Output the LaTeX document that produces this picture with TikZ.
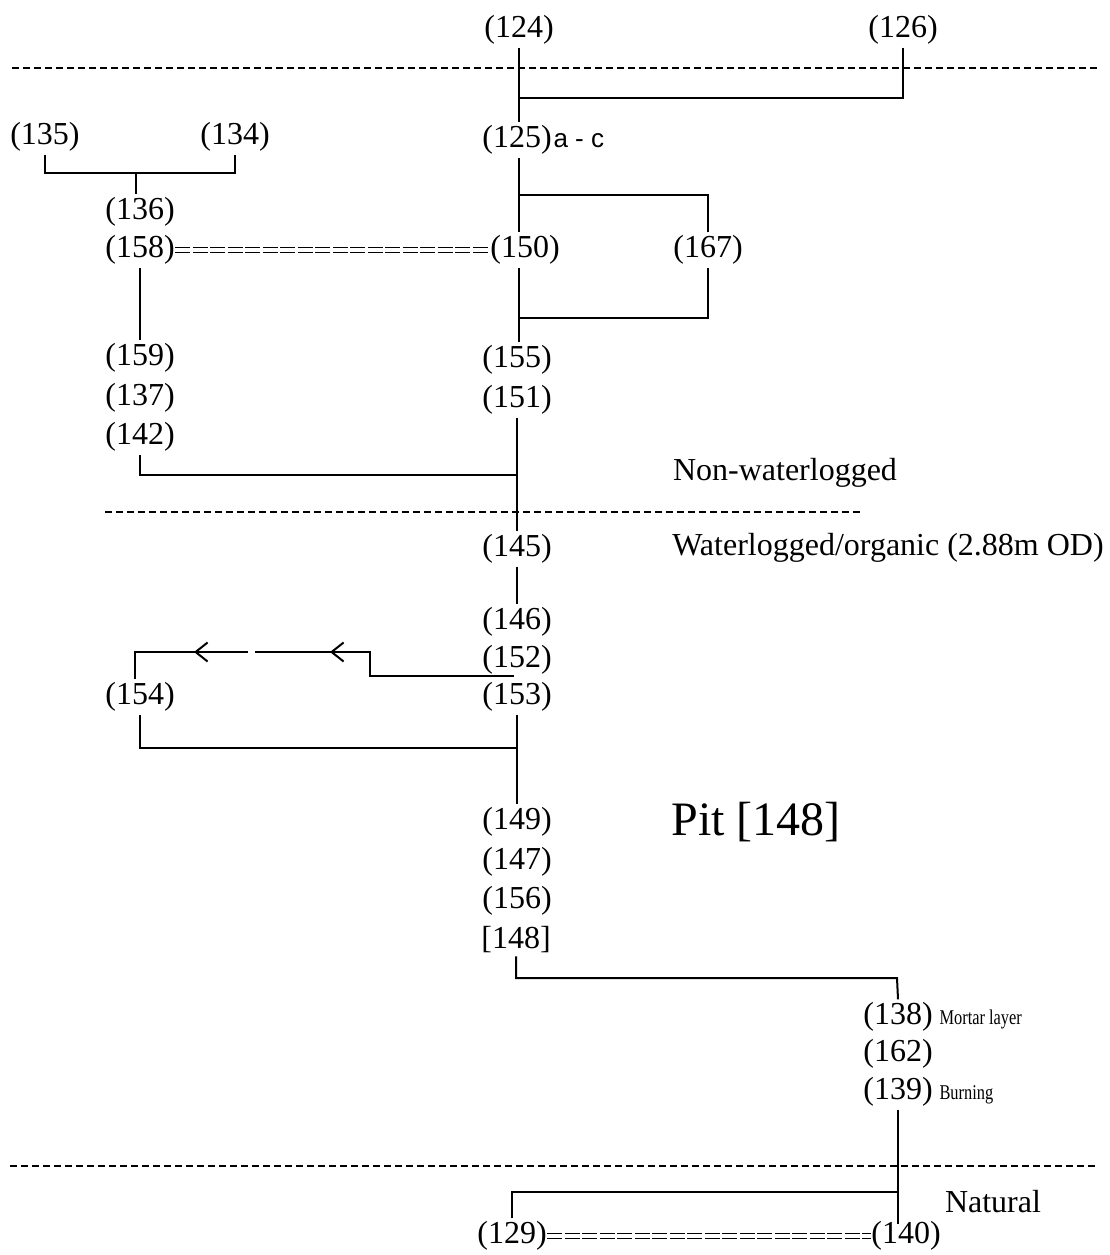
\documentclass[tikz,border=0pt]{standalone}
\usepackage{fontspec}
\setmainfont{Liberation Serif}
\newfontfamily\labsans{Liberation Sans}
\usetikzlibrary{arrows.meta,calc}
\begin{document}
\begin{tikzpicture}[x=1pt,y=-1pt,
  lab/.style={font=\fontsize{32}{34}\selectfont, inner xsep=0.5pt, inner ysep=3pt},
  ln/.style={line width=2pt},
  sepline/.style={line width=1.4pt, dash pattern=on 7pt off 4pt},
  eqline/.style={double, double distance=4pt, line width=1pt, dash pattern=on 15pt off 2.5pt},
  note/.style={font=\fontsize{32}{34}\selectfont, inner sep=0pt},
  smallnote/.style={font=\fontsize{21}{23}\selectfont, inner sep=0pt, anchor=base west},
  barb/.style={-{Straight Barb[length=12pt,width=19pt]}}
]
\useasboundingbox (0,0) rectangle (1109,1255);

% separators
\draw[sepline] (12,68) -- (1098,68);
\draw[sepline] (105,512) -- (862,512);
\draw[sepline] (10,1166) -- (1098,1166);

% labels
\node[lab] (n124) at (519,30) {(124)};
\node[lab] (n126) at (903,30) {(126)};
\node[lab] (n125) at (517,140) {(125)};
\node[inner sep=0pt, anchor=base west, font=\labsans\fontsize{26}{28}\selectfont] (n125s) at ($(n125.base east)+(1,0)$) {a - c};
\node[lab] (n135) at (45,137) {(135)};
\node[lab] (n134) at (235,137) {(134)};
\node[lab] (n136) at (140,212) {(136)};
\node[lab] (n158) at (140,250) {(158)};
\node[lab] (n150) at (525,250) {(150)};
\node[lab] (n167) at (708,250) {(167)};
\node[lab] (n159) at (140,358) {(159)};
\node[lab] (n137) at (140,398) {(137)};
\node[lab] (n142) at (140,437) {(142)};
\node[lab] (n155) at (517,360) {(155)};
\node[lab] (n151) at (517,400) {(151)};
\node[lab] (n145) at (517,549) {(145)};
\node[lab] (n146) at (517,622) {(146)};
\node[lab] (n152) at (517,660) {(152)};
\node[lab] (n153) at (517,697) {(153)};
\node[lab] (n154) at (140,697) {(154)};
\node[lab] (n149) at (517,822) {(149)};
\node[lab] (n147) at (517,862) {(147)};
\node[lab] (n156) at (517,901) {(156)};
\node[lab] (n148) at (516,940) {[148]};
\node[lab] (n138) at (898,1017) {(138)};
\node[lab] (n162) at (898,1054) {(162)};
\node[lab] (n139) at (898,1092) {(139)};
\node[lab] (n129) at (512,1236) {(129)};
\node[lab] (n140) at (906,1236) {(140)};
\node[smallnote] (mortar) at ($(n138.base east)+(6,0)$) {\scalebox{0.78}[1]{Mortar layer}};
\node[smallnote] (burn) at ($(n139.base east)+(6,0)$) {\scalebox{0.78}[1]{Burning}};

% zone texts
\node[note] (tnonwl) at (785,473) {Non-waterlogged};
\node[note] (twl) at (888,548) {Waterlogged/organic (2.88m OD)};
\node[note, font=\fontsize{48}{50}\selectfont] (tpit) at (756,822) {Pit [148]};
\node[note] (tnat) at (993,1202) {Natural};

% junction coordinates
\coordinate (b1) at (519,98);
\coordinate (j1) at (136,173);
\coordinate (b2) at (519,195);
\coordinate (b3) at (519,318);
\coordinate (b4) at (517,475);
\coordinate (c152) at (514,676);
\coordinate (p1) at (370,676);
\coordinate (p2) at (370,652);
\coordinate (a1) at (330,652);
\coordinate (g1) at (255,652);
\coordinate (g2) at (248,652);
\coordinate (a2) at (194,652);
\coordinate (p3) at (135,652);
\coordinate (b5) at (517,748);
\coordinate (b6) at (897,978);
\coordinate (b7) at (897,1192);

% main column
\draw[ln] (n124.south) -- (n124.south |- n125.north);
\draw[ln] (n126.south) |- (b1);
\draw[ln] (b1 |- n125.south) -- (b1 |- n150.north);
\draw[ln] (n167.north) |- (b2);
\draw[ln] (b1 |- n150.south) -- (b1 |- n155.north);
\draw[ln] (n167.south) |- (b3);
\draw[ln] (n151.south) -- (n145.north);
\draw[ln] (n142.south) |- (b4);
\draw[ln] (n145.south) -- (n146.north);
\draw[ln] (c152) -- (p1) -- (p2) -- (a1);
\draw[ln, barb] (p2) -- (a1);
\draw[ln] (a1) -- (g1);
\draw[ln] (g2) -- (a2);
\draw[ln, barb] (g2) -- (a2);
\draw[ln] (a2) -- (p3) -- (p3 |- n154.north);
\draw[ln] (n153.south) -- (n149.north);
\draw[ln] (n154.south) |- (b5);
\draw[ln] (n148.south) |- (b6) -- (n138.north);
\draw[ln] (n139.south) -- ($(n139.south |- n140.north)+(0,6)$);
\draw[ln] (n129.north) |- (b7);

% left column
\draw[ln] (n135.south) |- (j1) -| (n134.south);
\draw[ln] (j1) -- (j1 |- n136.north);
\draw[ln] (n158.south) -- (n159.north);

% equivalences
\draw[eqline] (n158.east) -- (n150.west);
\draw[eqline] (n129.east) -- (n140.west);
\end{tikzpicture}
\end{document}
